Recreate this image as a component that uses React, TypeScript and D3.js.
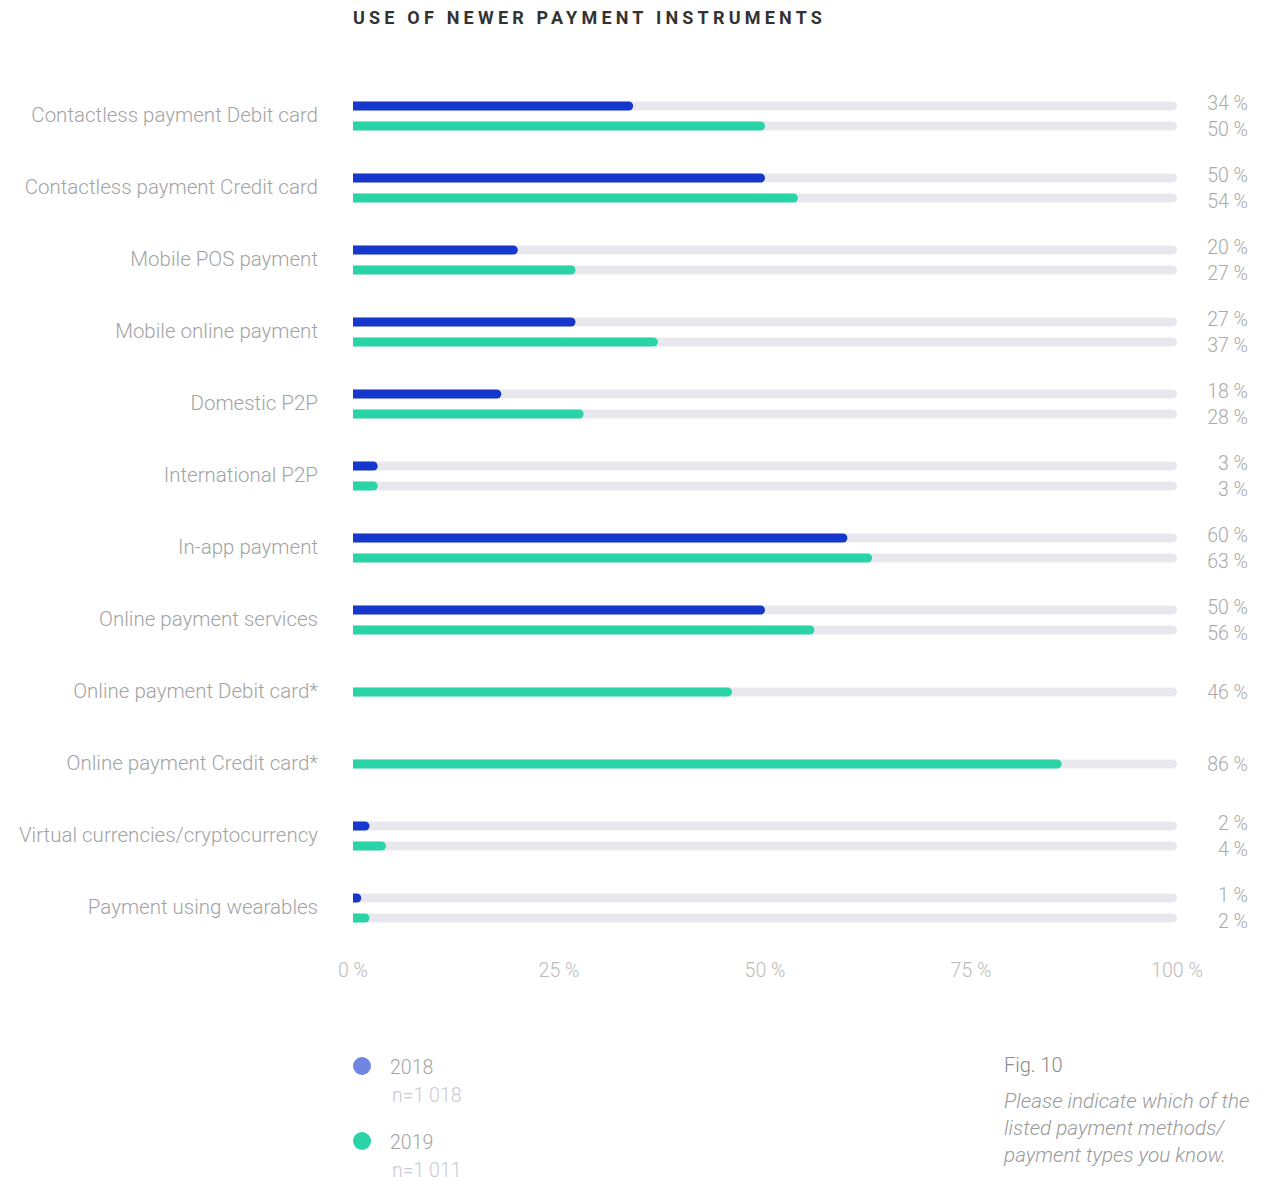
import React from "react";
import * as d3 from "d3";

const categories = [
  "Contactless payment Debit card",
  "Contactless payment Credit card",
  "Mobile POS payment",
  "Mobile online payment",
  "Domestic P2P",
  "International P2P",
  "In-app payment",
  "Online payment services",
  "Online payment Debit card*",
  "Online payment Credit card*",
  "Virtual currencies/cryptocurrency",
  "Payment using wearables",
];
const values2018: (number | null)[] = [34, 50, 20, 27, 18, 3, 60, 50, null, null, 2, 1];
const values2019: (number | null)[] = [50, 54, 27, 37, 28, 3, 63, 56, 46, 86, 4, 2];
const xTicks = [0, 25, 50, 75, 100];
const legendItems = [
  { year: "2018", n: "n=1 018", color: "#6f86e2" },
  { year: "2019", n: "n=1 011", color: "#2ad4a6" },
];
const noteLines = [
  "Please indicate which of the",
  "listed payment methods/",
  "payment types you know.",
];

const BLUE = "#1537cc";
const GREEN = "#2ad4a6";
const TRACK = "#e9e8ee";

function roundRight(x0: number, x1: number, yc: number, h: number) {
  const r = Math.min(h / 2, Math.max(0, x1 - x0));
  const y0 = yc - h / 2;
  const p = d3.path();
  p.moveTo(x0, y0);
  p.lineTo(x1 - r, y0);
  p.arc(x1 - r, yc, r, -Math.PI / 2, Math.PI / 2);
  p.lineTo(x0, y0 + h);
  p.closePath();
  return p.toString();
}

export default function App() {
  const W = 1270;
  const H = 1181;
  const x = d3.scaleLinear().domain([0, 100]).range([353, 1177]);
  const y = d3
    .scaleBand<number>()
    .domain(d3.range(categories.length))
    .range([80, 944])
    .paddingInner(0);
  const font = "Roboto, 'Noto Sans', sans-serif";
  const barH = 9;
  const off = 10;

  return (
    <svg width={W} height={H} style={{ position: "absolute", left: 0, top: 0, background: "#fff" }}>
      <text
        x={353}
        y={17}
        dominantBaseline="central"
        fontFamily={font}
        fontWeight={700}
        fontSize={18}
        letterSpacing={4.2}
        fill="#333"
      >
        USE OF NEWER PAYMENT INSTRUMENTS
      </text>

      {categories.map((c, i) => {
        const yc = (y(i) as number) + y.bandwidth() / 2;
        const a = values2018[i];
        const b = values2019[i];
        const both = a != null && b != null;
        const rows: { v: number; color: string; yy: number; ly: number }[] = [];
        if (both) {
          rows.push({ v: a as number, color: BLUE, yy: yc - off, ly: yc - 13 });
          rows.push({ v: b as number, color: GREEN, yy: yc + off, ly: yc + 13 });
        } else if (b != null) {
          rows.push({ v: b, color: GREEN, yy: yc, ly: yc });
        } else if (a != null) {
          rows.push({ v: a, color: BLUE, yy: yc, ly: yc });
        }
        return (
          <g key={c}>
            <text
              x={318}
              y={yc - 1}
              textAnchor="end"
              dominantBaseline="central"
              fontFamily={font}
              fontWeight={300}
              fontSize={20.5}
              fill="#a3a3a3"
            >
              {c}
            </text>
            {rows.map((r, k) => (
              <g key={k}>
                <path d={roundRight(x(0), x(100), r.yy, barH)} fill={TRACK} />
                <path d={roundRight(x(0), x(r.v), r.yy, barH)} fill={r.color} />
                <text
                  x={1248}
                  y={r.ly}
                  textAnchor="end"
                  dominantBaseline="central"
                  fontFamily={font}
                  fontWeight={300}
                  fontSize={19.5}
                  fill="#aaaaaa"
                >
                  {`${r.v} %`}
                </text>
              </g>
            ))}
          </g>
        );
      })}

      {xTicks.map((t) => (
        <text
          key={t}
          x={x(t)}
          y={970}
          textAnchor="middle"
          dominantBaseline="central"
          fontFamily={font}
          fontWeight={300}
          fontSize={19.5}
          fill="#bbbbbb"
        >
          {`${t} %`}
        </text>
      ))}

      {legendItems.map((l, i) => {
        const ly = 1066 + i * 75;
        return (
          <g key={l.year}>
            <circle cx={362} cy={ly} r={9} fill={l.color} />
            <text
              x={390}
              y={ly + 1}
              dominantBaseline="central"
              fontFamily={font}
              fontWeight={300}
              fontSize={19.5}
              fill="#a3a3a3"
            >
              {l.year}
            </text>
            <text
              x={392}
              y={ly + 29}
              dominantBaseline="central"
              fontFamily={font}
              fontWeight={300}
              fontSize={19.5}
              fill="#c9c9d2"
            >
              {l.n}
            </text>
          </g>
        );
      })}

      <text
        x={1004}
        y={1065}
        dominantBaseline="central"
        fontFamily={font}
        fontWeight={300}
        fontSize={20}
        fill="#8a8a8a"
      >
        Fig. 10
      </text>
      {noteLines.map((ln, i) => (
        <text
          key={i}
          x={1004}
          y={1101 + i * 27}
          dominantBaseline="central"
          fontFamily={font}
          fontWeight={300}
          fontStyle="italic"
          fontSize={20.7}
          fill="#9a9a9a"
        >
          {ln}
        </text>
      ))}
    </svg>
  );
}
